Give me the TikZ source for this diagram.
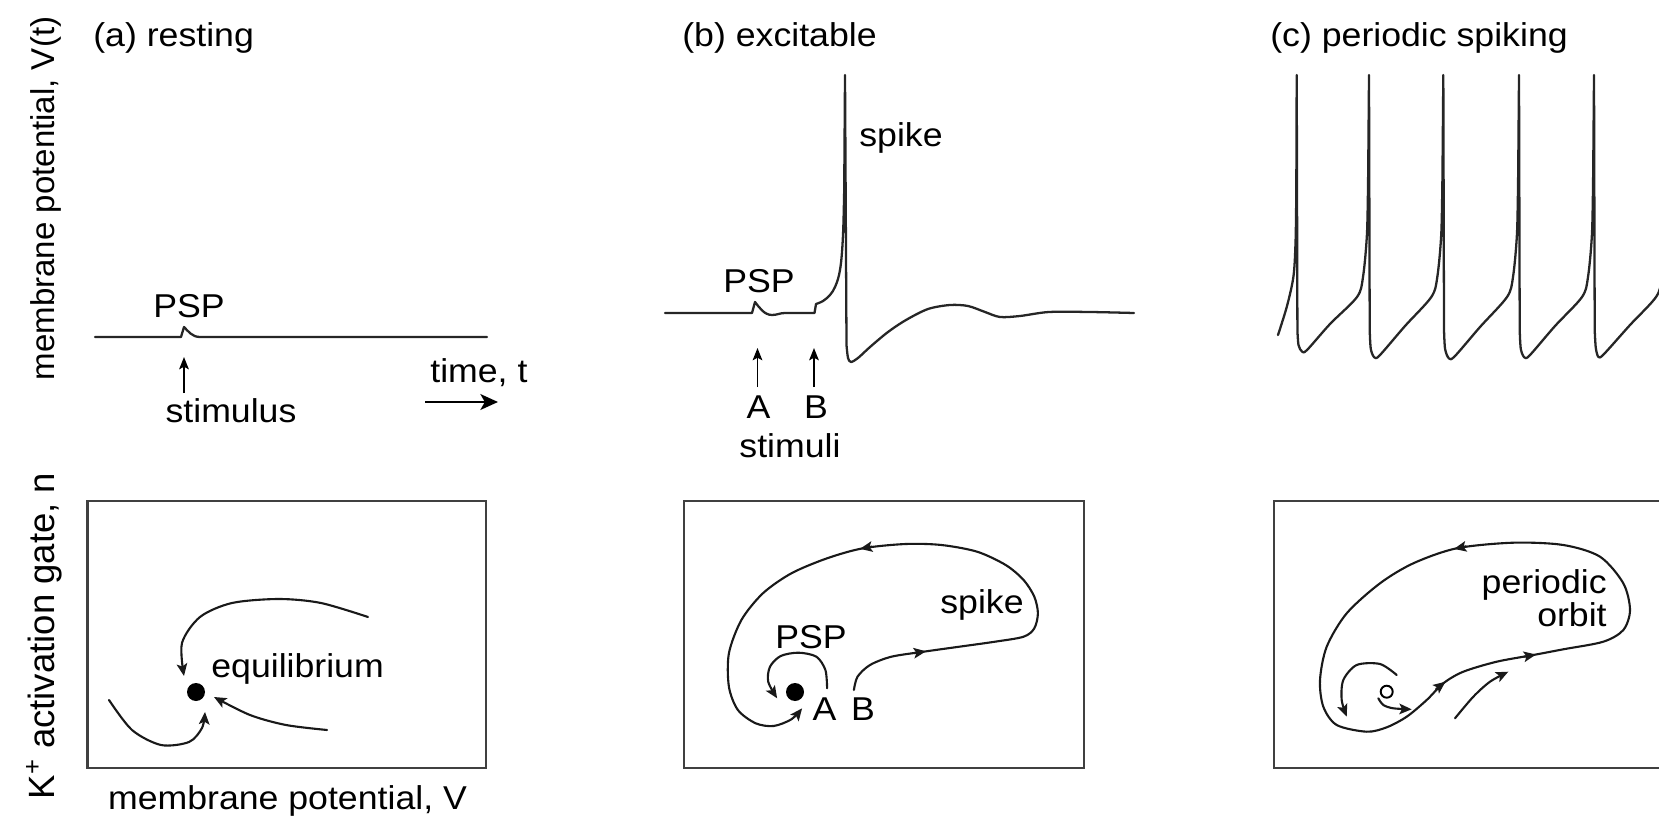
\documentclass[tikz,border=0pt]{standalone}
\usepackage{fontspec}
\setmainfont{Liberation Sans}[FakeStretch=1.08]
\newfontfamily\uprightlab{Liberation Sans}
\usetikzlibrary{arrows.meta}

\begin{document}
\begin{tikzpicture}[x=0.02cm, y=-0.02cm,
  lab/.style={inner sep=0pt, font=\fontsize{18.8}{22}\selectfont},
  axlab/.style={inner sep=0pt, rotate=90, anchor=base, font=\uprightlab\fontsize{18.8}{22}\selectfont},
  trace/.style={line width=1.3pt, draw=black!85, line join=round, line cap=round},
  frame/.style={line width=1.5pt, draw=black!75},
  flow/.style={line width=1.2pt, draw=black!90, line cap=round},
  flowtip/.style={-{Stealth[length=7pt,width=6pt,inset=1.5pt]}},
  stimarrow/.style={line width=1pt, draw=black, -{Stealth[length=7pt,width=5.5pt,inset=1.5pt]}},
  timearrow/.style={line width=1.3pt, draw=black, -{Stealth[length=10pt,width=9pt,inset=2.5pt]}},
  fixdot/.style={circle, fill=black, inner sep=0pt, minimum size=0.36cm},
  opendot/.style={circle, draw=black, fill=white, line width=1.1pt, inner sep=0pt, minimum size=0.24cm},
]
\useasboundingbox (0,0) rectangle (1659,817);
\clip (0,0) rectangle (1659,817);

% ---------- panel titles and axis labels ----------
\node[lab, anchor=base west] (ta) at (93,47) {(a) resting};
\node[lab, anchor=base west] (tb) at (682,47) {(b) excitable};
\node[lab, anchor=base west] (tc) at (1270,47) {(c) periodic spiking};
\node[axlab] (yv) at (54,198.5) {membrane potential, V(t)};
\node[axlab, font=\uprightlab\fontsize{20.8}{24}\selectfont] (yn) at (54,636) {K\textsuperscript{+} activation gate, n};
\node[lab, anchor=base] (xv) at (287.5,809) {membrane potential, V};

% ---------- (a) resting: voltage trace ----------
\draw[trace] (95,337) -- (181,337) -- (184,327) .. controls (188,331) and (192,337) .. (200,337) -- (487,337);
\node[lab, anchor=base] (pspa) at (189,317) {PSP};
\coordinate (sa0) at (184,393);
\coordinate (sa1) at (184,357);
\draw[stimarrow] (sa0) -- (sa1);
\node[lab, anchor=base] (stima) at (231,422) {stimulus};
\node[lab, anchor=base west] (timelab) at (430,382) {time, t};
\coordinate (t0) at (425,402);
\coordinate (t1) at (498,402);
\draw[timearrow] (t0) -- (t1);

% ---------- (b) excitable: voltage trace ----------
\draw[trace] (665,313) -- (752,313) -- (755,302) .. controls (759,307) and (764,315) .. (772,315)
  .. controls (777,315) and (780,313) .. (785,313) -- (814.5,313) -- (816,304)
  -- plot[smooth, tension=0.6] coordinates {(816,304) (823,301) (830,295) (835,287) (839,275) (841.5,258) (843.2,230) (844.2,190)}
  -- (845,75) -- (846.5,345)
  -- plot[smooth] coordinates {(846.5,345) (848,358) (851,362) (858,358) (870,347) (888,332) (906,320) (928,309) (950,305) (968,306) (985,312) (1000,317) (1020,316) (1049,312) (1090,312) (1134,313)};
\node[lab, anchor=base west] (spkb) at (859,147) {spike};
\node[lab, anchor=base] (pspb) at (759,293) {PSP};
\coordinate (sA0) at (757.5,387);
\coordinate (sA1) at (757.5,348);
\coordinate (sB0) at (814,387);
\coordinate (sB1) at (814,348);
\draw[stimarrow] (sA0) -- (sA1);
\draw[stimarrow] (sB0) -- (sB1);
\node[lab, anchor=base] (labA) at (758.5,418) {A};
\node[lab, anchor=base] (labB) at (816,418) {B};
\node[lab, anchor=base] (stimb) at (790,457) {stimuli};

% ---------- (c) periodic spiking: voltage trace ----------
\draw[trace]
  plot[smooth] coordinates {(1278,335) (1287,306) (1293.5,276) (1295.6,240) (1296.3,190)} -- (1296.7,75)
  -- (1297.4,330) -- plot[smooth] coordinates {(1297.4,330) (1298.5,345) (1302,351.5) (1307,350) (1330,324) (1357,297) (1363,277) (1367,233) (1368.2,170)} -- (1369,75)
  -- (1369.7,330) -- plot[smooth] coordinates {(1369.7,330) (1370.8,349) (1374.5,357.5) (1380,355) (1405,326) (1431.3,297) (1437.3,277) (1441.3,233) (1442.5,170)} -- (1443.3,75)
  -- (1444,330) -- plot[smooth] coordinates {(1444,330) (1445.1,349) (1449,358.5) (1455,356) (1480,327) (1507,297) (1513,277) (1517,233) (1518.2,170)} -- (1519,75)
  -- (1519.7,330) -- plot[smooth] coordinates {(1519.7,330) (1520.8,349) (1524.5,357.5) (1530,355) (1555,326) (1582,297) (1588,277) (1592,233) (1593.2,170)} -- (1594,75)
  -- (1594.7,330) -- plot[smooth] coordinates {(1594.7,330) (1595.8,348) (1598.5,357) (1604,354) (1630,325) (1656,297) (1662,277) (1666,233)};

% ---------- (a) phase plane ----------
\draw[frame] (87.5,501) rectangle (486,768);
\node[fixdot] (eqa) at (196,692) {};
\draw[flow, flowtip] plot[smooth] coordinates {(368,617) (321,603) (279,599) (232,603) (200,617) (182,643) (184,676)};
\draw[flow, flowtip] plot[smooth] coordinates {(109,700) (132,730) (161,745) (189,742) (202,728) (205,712)};
\draw[flow, flowtip] plot[smooth] coordinates {(327,730) (286,725) (250,715) (214,697)};
\node[lab, anchor=base west] (eqlab) at (211,677) {equilibrium};

% ---------- (b) phase plane ----------
\draw[frame] (684,501) rectangle (1084,768);
\node[fixdot] (eqb) at (795,692) {};
\draw[flow, flowtip] plot[smooth] coordinates {(853.9,690) (857.5,676.7) (870,665) (891.4,656.7) (923.6,651.7) (959.3,646.7) (995,641.7) (1023.6,636.7) (1034.3,628.3) (1037.9,613.3) (1034.3,596.7) (1023.6,580) (1005.7,565) (977.1,551.7) (941.4,545) (905.7,544) (862.9,548.3) (827.1,558.3) (791.4,573.3) (762.9,593.3) (741.4,620) (728.9,653.3) (728.9,686.7) (737.9,710) (755.7,723.3) (773.6,726) (791.4,719.3) (802.1,708.3)};
\draw[flow, flowtip] (914,653.1) -- (926,651.3);
\draw[flow, flowtip] (872,546.6) -- (860,548.8);
\draw[flow, flowtip] plot[smooth] coordinates {(827.1,688.3) (825.4,670) (816.4,656.7) (798.6,652.7) (780.7,656) (770,666.7) (768.2,681.7) (777.1,698.3)};
\node[lab, anchor=base] (pspbl) at (811,648) {PSP};
\node[lab, anchor=base] (Abl) at (824.5,720) {A};
\node[lab, anchor=base] (Bbl) at (863,720) {B};
\node[lab, anchor=base] (spkbl) at (982,613) {spike};

% ---------- (c) phase plane ----------
\draw[frame] (1274,501) rectangle (1720,768);
\draw[flow] plot[smooth cycle] coordinates {(1366.7,731.7) (1336.7,725) (1323.3,706.7) (1320,680) (1326.7,646.7) (1346.7,613.3) (1380,583.3) (1413.3,563.3) (1456.7,548.3) (1513.3,542.7) (1563.3,545) (1600,556.7) (1623.3,583.3) (1630,610) (1623.3,630) (1603.3,641.7) (1563.3,649.3) (1533.3,655) (1496.7,661.7) (1463.3,671.7) (1443.3,683.3) (1426.7,700) (1406.7,716.7) (1386.7,727.3)};
\draw[flow, flowtip] (1466,546.4) -- (1454,548.9);
\draw[flow, flowtip] (1524,656.7) -- (1536,654.5);
\draw[flow, flowtip] (1436,689) -- (1445.5,681.7);
\node[opendot] (eqc) at (1386.7,691.7) {};
\draw[flow, flowtip] plot[smooth] coordinates {(1396.7,675) (1380,664) (1356.7,665) (1343.3,680) (1341.7,700) (1346.7,716.7)};
\draw[flow, flowtip] plot[smooth] coordinates {(1378.3,698.3) (1383.3,705) (1393.3,708.3) (1411.7,709.3)};
\draw[flow, flowtip] plot[smooth] coordinates {(1455,718.3) (1473.3,696.7) (1490,681.7) (1508.3,671.7)};
\node[lab, anchor=base east] (perlab) at (1607,593.3) {periodic};
\node[lab, anchor=base east] (orblab) at (1607,626.7) {orbit};
\end{tikzpicture}
\end{document}
